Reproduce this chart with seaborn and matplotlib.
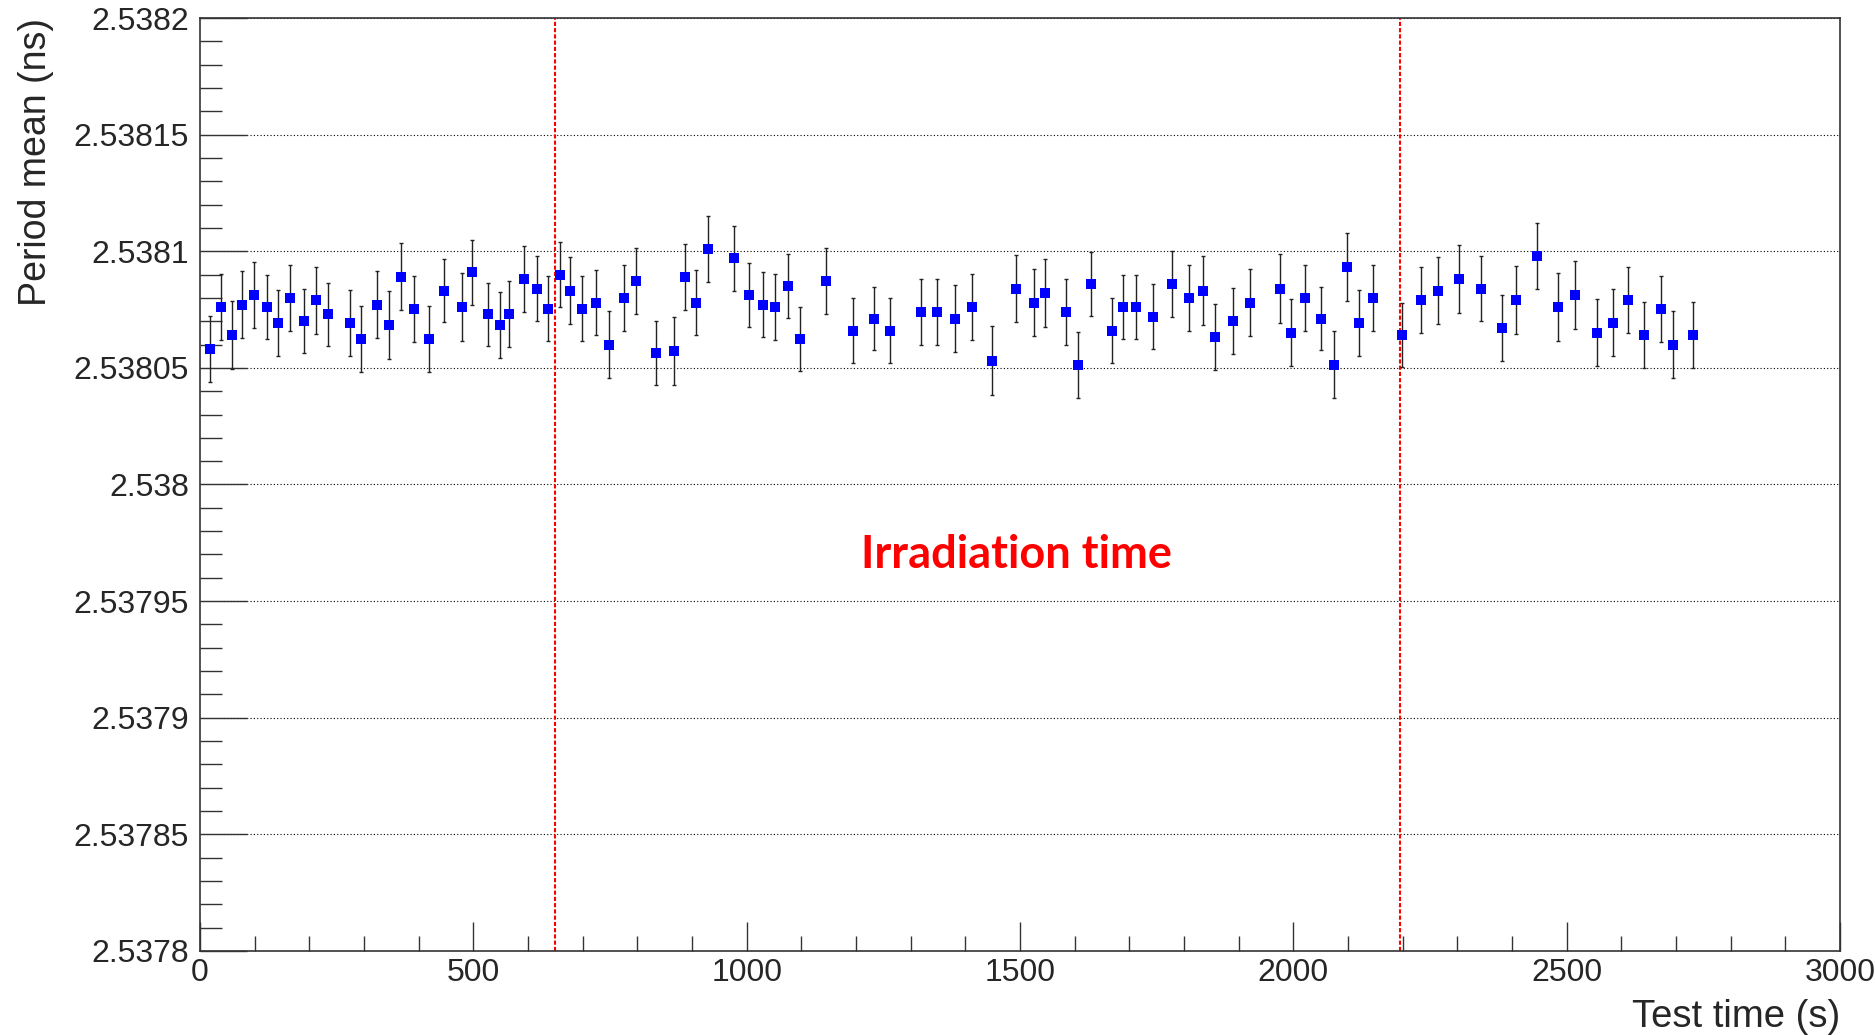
import numpy as np
import pandas as pd
import seaborn as sns
import matplotlib
matplotlib.use("Agg")
import matplotlib.pyplot as plt
from matplotlib.ticker import MultipleLocator, FuncFormatter

# test time (s), period mean offset from 2.538 ns (units of 1e-5 ns), error (1e-5 ns)
test_time = [18, 39, 59, 77, 98, 122, 143, 165, 191, 212, 234, 274, 295, 323, 345,
             368, 392, 419, 447, 479, 498, 527, 548, 565, 593, 617, 636, 659, 677,
             699, 724, 749, 776, 798, 835, 867, 888, 907, 929, 976, 1004, 1029, 1051,
             1075, 1098, 1146, 1195, 1232, 1262, 1319, 1349, 1381, 1412, 1449, 1493,
             1526, 1546, 1584, 1607, 1629, 1668, 1688, 1713, 1743, 1778, 1810, 1834,
             1857, 1889, 1920, 1975, 1995, 2022, 2050, 2074, 2099, 2121, 2146, 2199,
             2233, 2265, 2304, 2343, 2381, 2408, 2446, 2485, 2516, 2556, 2585, 2613,
             2642, 2672, 2694, 2731]
period_offset = [5.80, 7.61, 6.41, 7.71, 8.13, 7.61, 6.93, 7.99, 7.01, 7.90, 7.30, 6.93,
                 6.23, 7.71, 6.83, 8.90, 7.53, 6.23, 8.31, 7.61, 9.09, 7.30, 6.83, 7.30,
                 8.81, 8.40, 7.53, 9.00, 8.31, 7.53, 7.80, 6.00, 7.99, 8.73, 5.64, 5.73,
                 8.91, 7.80, 10.10, 9.69, 8.13, 7.71, 7.61, 8.50, 6.23, 8.73, 6.60, 7.11,
                 6.60, 7.39, 7.39, 7.11, 7.61, 5.31, 8.40, 7.80, 8.21, 7.39, 5.13, 8.59,
                 6.60, 7.61, 7.61, 7.20, 8.59, 7.99, 8.31, 6.33, 7.01, 7.80, 8.40, 6.51,
                 7.99, 7.11, 5.13, 9.33, 6.93, 7.99, 6.41, 7.90, 8.31, 8.81, 8.40, 6.70,
                 7.90, 9.80, 7.61, 8.13, 6.51, 6.93, 7.90, 6.41, 7.53, 6.00, 6.41]
period_err = [1.41, 1.42, 1.44, 1.44, 1.41, 1.39, 1.41, 1.41, 1.39, 1.44, 1.36, 1.41,
              1.41, 1.44, 1.46, 1.44, 1.41, 1.41, 1.36, 1.44, 1.41, 1.36, 1.41, 1.41,
              1.43, 1.39, 1.39, 1.39, 1.44, 1.39, 1.39, 1.45, 1.41, 1.41, 1.38, 1.46,
              1.41, 1.39, 1.43, 1.38, 1.36, 1.39, 1.43, 1.38, 1.36, 1.41, 1.38, 1.34,
              1.40, 1.40, 1.40, 1.43, 1.43, 1.47, 1.42, 1.42, 1.45, 1.40, 1.41, 1.36,
              1.39, 1.39, 1.39, 1.39, 1.40, 1.41, 1.48, 1.41, 1.41, 1.42, 1.47, 1.44,
              1.41, 1.34, 1.43, 1.46, 1.41, 1.41, 1.39, 1.41, 1.44, 1.45, 1.41, 1.41,
              1.45, 1.40, 1.44, 1.46, 1.44, 1.44, 1.41, 1.43, 1.41, 1.43, 1.40]
irradiation_bounds = [650, 2195]

df = pd.DataFrame({
    "t": test_time,
    "period": 2.538 + np.array(period_offset) * 1e-5,
    "err": np.array(period_err) * 1e-5,
})

sns.set_theme(style="white")
plt.rcParams["font.family"] = ["Liberation Sans", "DejaVu Sans"]

fig = plt.figure(figsize=(18.75, 10.35), dpi=100)
ax = fig.add_axes([0.1067, 0.0812, 0.8746, 0.9014])

ax.errorbar(df["t"], df["period"], yerr=df["err"], fmt="none", ecolor="#222222",
            elinewidth=1.0, capsize=1.6, capthick=1.0, zorder=2)
sns.scatterplot(data=df, x="t", y="period", marker="s", color="#0000ff", s=55,
                linewidth=0, ax=ax, zorder=3)

for xb in irradiation_bounds:
    ax.axvline(xb, color="red", lw=1.5, ls=(0, (2, 1)), zorder=1)

ax.text(1494, 2.5379644, "Irradiation time", color="red", fontsize=32.5,
        fontweight="bold", family=["Lato", "DejaVu Sans"],
        ha="center", va="baseline")

ax.set_xlim(0, 3000)
ax.set_ylim(2.5378, 2.5382)
ax.xaxis.set_major_locator(MultipleLocator(500))
ax.xaxis.set_minor_locator(MultipleLocator(100))
ax.yaxis.set_major_locator(MultipleLocator(0.00005))
ax.yaxis.set_minor_locator(MultipleLocator(0.00001))
ax.yaxis.set_major_formatter(FuncFormatter(lambda v, p: f"{v:.6g}"))

ax.grid(axis="y", which="major", color="black", ls=(0, (1, 2)), lw=0.8)
ax.grid(axis="x", visible=False)

ax.tick_params(axis="y", which="major", direction="in", length=34, width=1,
               color="#333333", labelsize=23, pad=8, left=True, right=False)
ax.tick_params(axis="y", which="minor", direction="in", length=16, width=1,
               color="#333333", left=True, right=False)
ax.tick_params(axis="x", which="major", direction="in", length=21, width=1,
               color="#333333", labelsize=23, pad=5, bottom=True, top=False)
ax.tick_params(axis="x", which="minor", direction="in", length=11, width=1,
               color="#333333", bottom=True, top=False)

for s in ax.spines.values():
    s.set_color("#333333")
    s.set_linewidth(1.2)

ax.set_xlabel("Test time (s)", fontsize=27.5, loc="right", labelpad=8)
ax.set_ylabel("Period mean (ns)", fontsize=27, loc="top")
ax.yaxis.set_label_coords(-0.089, 1.0)

fig.savefig("out.png", dpi=100)
